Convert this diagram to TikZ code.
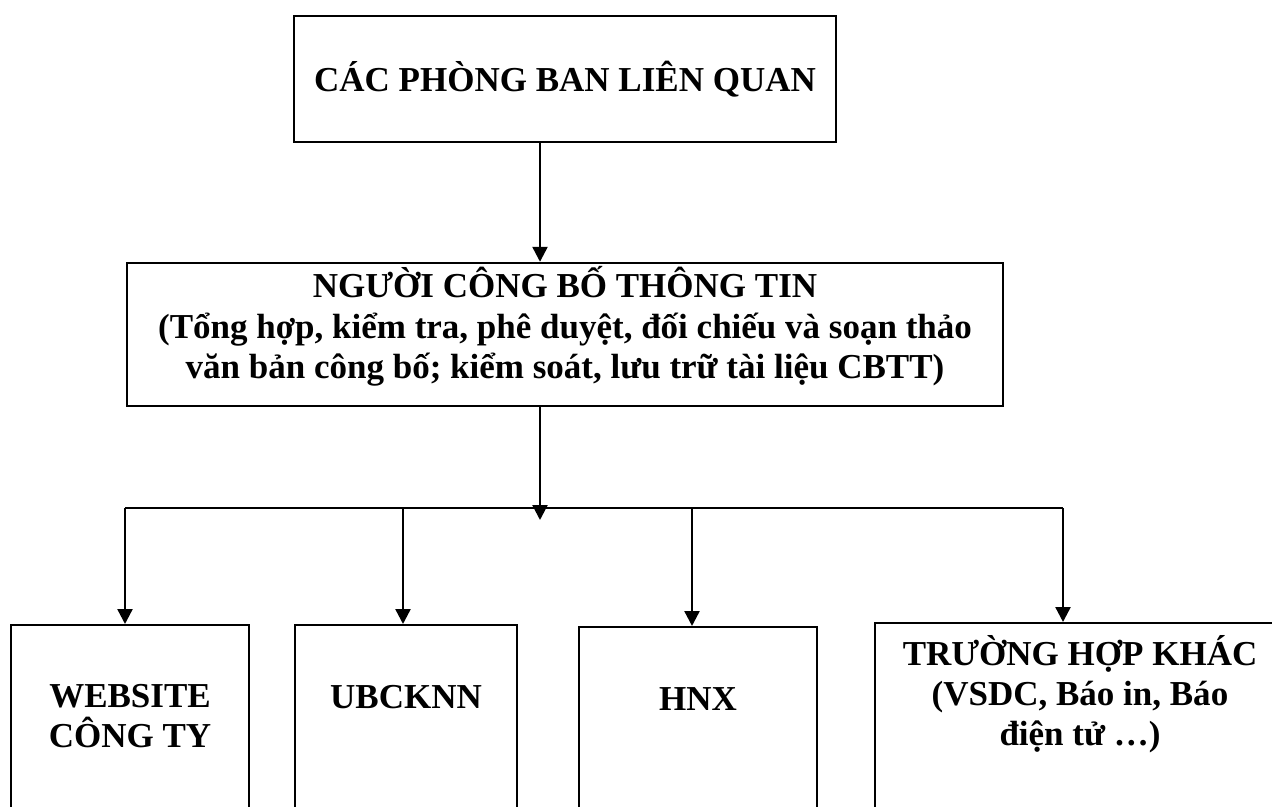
\documentclass[tikz,border=0pt]{standalone}
\usepackage{fontspec}
\setmainfont{Liberation Serif}
\usetikzlibrary{arrows.meta,positioning}
\tikzset{box/.style={draw,line width=1.2pt,inner sep=0pt},
  arr/.style={line width=1.2pt,-{Triangle[width=7.5pt,length=7.5pt]}},
  lbl/.style={font=\bfseries\fontsize{17.5}{20}\selectfont,align=center,inner sep=0pt}}

\begin{document}
\begin{tikzpicture}[x=0.5pt,y=-0.5pt]
\clip (0,0) rectangle (1272,807);
% upper boxes
\node[box,lbl,minimum width=271pt,minimum height=63pt] (dept) at (565,79) {CÁC PHÒNG BAN LIÊN QUAN};
\node[box,minimum width=438pt,minimum height=71.5pt] (pub) at (565,334.5) {};
\node[lbl,anchor=base] (pubtxt) at (565,378) {NGƯỜI CÔNG BỐ THÔNG TIN\\(Tổng hợp, kiểm tra, phê duyệt, đối chiếu và soạn thảo\\văn bản công bố; kiểm soát, lưu trữ tài liệu CBTT)};
% lower boxes
\node[box,anchor=north,minimum width=119pt,minimum height=140pt] (web) at (130,624) {};
\node[box,anchor=north,minimum width=111pt,minimum height=140pt] (ubc) at (406,624) {};
\node[box,anchor=north,minimum width=119pt,minimum height=140pt] (hnx) at (698,626) {};
\node[box,anchor=north,minimum width=205pt,minimum height=140pt] (other) at (1080,622) {};
\node[lbl,anchor=base] (webtxt) at (130,747) {WEBSITE\\CÔNG TY};
\node[lbl,anchor=base] (ubctxt) at (406,708) {UBCKNN};
\node[lbl,anchor=base] (hnxtxt) at (698,710) {HNX};
\node[lbl,anchor=base] (othertxt) at (1080,745) {TRƯỜNG HỢP KHÁC\\(VSDC, Báo in, Báo\\điện tử …)};
% connectors
\coordinate (spine) at (540,0);
\coordinate (hub) at (540,520);
\coordinate (busL) at (125,508);
\coordinate (bus2) at (403,508);
\coordinate (bus3) at (692,508);
\coordinate (busR) at (1063,508);
\draw[arr] (dept.south -| spine) -- (pub.north -| spine);
\draw[line width=1.2pt] (busL) -- (busR);
\draw[arr] (pub.south -| spine) -- (hub);
\draw[arr] (busL) -- (busL |- web.north);
\draw[arr] (bus2) -- (bus2 |- ubc.north);
\draw[arr] (bus3) -- (bus3 |- hnx.north);
\draw[arr] (busR) -- (busR |- other.north);
\end{tikzpicture}
\end{document}
